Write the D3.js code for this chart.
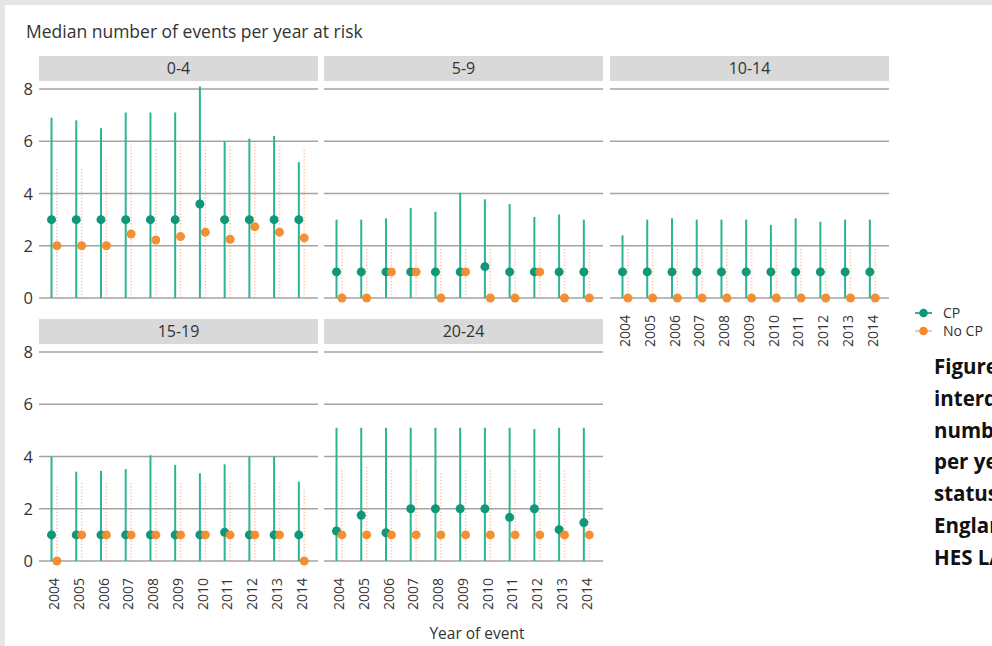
<!DOCTYPE html>
<html>
<head>
<meta charset="utf-8">
<script src="https://cdn.jsdelivr.net/npm/d3@7"></script>
<style>
  html, body { margin: 0; padding: 0; background: #fff; }
  svg { display: block; font-family: "Open Sans", "Noto Sans", sans-serif; }
</style>
</head>
<body>
<svg id="chart" width="992" height="646"></svg>
<script>
// Age groups (facets) and event years
const ageGroups = ["0-4", "5-9", "10-14", "15-19", "20-24"];
const years = ["2004", "2005", "2006", "2007", "2008", "2009", "2010", "2011", "2012", "2013", "2014"];
const yTicks = [0, 2, 4, 6, 8];

// CP: median and upper quartile per year, one row per age group
const cpMedian = [
  [3, 3, 3, 3, 3, 3, 3.6, 3, 3, 3, 3],
  [1, 1, 1, 1, 1, 1, 1.2, 1, 1, 1, 1],
  [1, 1, 1, 1, 1, 1, 1, 1, 1, 1, 1],
  [1, 1, 1, 1, 1, 1, 1, 1.1, 1, 1, 1],
  [1.15, 1.75, 1.08, 2, 2, 2, 2, 1.67, 2, 1.2, 1.47]
];
const cpUpper = [
  [6.9, 6.8, 6.5, 7.1, 7.1, 7.1, 8.1, 6.0, 6.1, 6.2, 5.2],
  [3.0, 3.0, 3.05, 3.45, 3.3, 4.03, 3.78, 3.6, 3.1, 3.2, 3.0],
  [2.4, 3.0, 3.05, 3.0, 3.0, 3.0, 2.8, 3.05, 2.92, 3.0, 3.0],
  [4.0, 3.42, 3.45, 3.52, 4.05, 3.68, 3.36, 3.7, 4.0, 4.0, 3.04],
  [5.1, 5.1, 5.1, 5.1, 5.1, 5.1, 5.1, 5.1, 5.05, 5.1, 5.1]
];

// No CP: median and upper quartile per year
const noCpMedian = [
  [2.0, 2.0, 2.0, 2.45, 2.22, 2.35, 2.52, 2.25, 2.73, 2.52, 2.3],
  [0, 0, 1, 1, 0, 1, 0, 0, 1, 0, 0],
  [0, 0, 0, 0, 0, 0, 0, 0, 0, 0, 0],
  [0, 1, 1, 1, 1, 1, 1, 1, 1, 1, 0],
  [1, 1, 1, 1, 1, 1, 1, 1, 1, 1, 1]
];
const noCpUpper = [
  [5.0, 5.0, 5.3, 5.9, 5.7, 5.9, 5.8, 5.8, 5.9, 5.8, 5.7],
  [2.0, 2.0, 2.0, 2.0, 2.0, 2.1, 2.0, 2.0, 2.0, 2.0, 2.0],
  [2.0, 2.0, 2.0, 2.0, 2.0, 2.0, 2.0, 2.0, 2.0, 2.0, 2.0],
  [2.85, 3.0, 3.0, 3.0, 3.0, 3.0, 3.0, 3.0, 3.0, 3.0, 2.8],
  [3.5, 3.6, 3.5, 3.5, 3.4, 3.5, 3.5, 3.5, 3.5, 3.5, 3.5]
];

const seriesNames = ["CP", "No CP"];
const captionLines = [
  "Figure 5: Median and",
  "interquartile range of",
  "number of events",
  "per year at risk by CP",
  "status and age group,",
  "England, 2004-2014,",
  "HES LA data"
];

// ---- styling / layout ----
const cpDot = "#10977a", cpLine = "#2bb593";
const noDot = "#f28a2b", noLine = "#f5a06a";
const textCol = "#333";
const gridCol = "#a3a3a3";

const svg = d3.select("#chart");

// page frame
svg.append("rect").attr("width", 992).attr("height", 646).attr("fill", "#e6e6e6");
svg.append("rect").attr("x", 5).attr("y", 5).attr("width", 987).attr("height", 641).attr("fill", "#fff");

svg.append("text")
  .attr("x", 26).attr("y", 38)
  .attr("font-size", 17.5).attr("fill", textCol)
  .text("Median number of events per year at risk");

const colX = [39, 324, 610];
const panelW = 279;
const rows = [
  { stripY: 56, y0: 298, y8: 89 },
  { stripY: 319, y0: 561, y8: 352 }
];
const stripH = 25;

ageGroups.forEach((grp, gi) => {
  const row = rows[gi < 3 ? 0 : 1];
  const x0 = colX[gi % 3];
  const g = svg.append("g");

  const x = d3.scaleBand().domain(years).range([x0 + 2.85, x0 + 274.9]).padding(0);
  const y = d3.scaleLinear().domain([0, 8]).range([row.y0, row.y8]);
  const dodge = 2.7;
  const cx = yr => x(yr) + x.bandwidth() / 2;

  // strip
  g.append("rect").attr("x", x0).attr("y", row.stripY).attr("width", panelW).attr("height", stripH)
    .attr("fill", "#d9d9d9");
  g.append("text").attr("x", x0 + panelW / 2).attr("y", row.stripY + stripH / 2 + 5.5)
    .attr("text-anchor", "middle").attr("font-size", 16).attr("fill", textCol).text(grp);

  // gridlines
  g.selectAll("line.grid").data(yTicks).join("line")
    .attr("x1", x0).attr("x2", x0 + panelW)
    .attr("y1", d => y(d)).attr("y2", d => y(d))
    .attr("stroke", gridCol).attr("stroke-width", 1.3);

  // y axis labels on first column
  if (gi % 3 === 0) {
    g.selectAll("text.yl").data(yTicks).join("text")
      .attr("x", 33).attr("y", d => y(d) + 6)
      .attr("text-anchor", "end").attr("font-size", 16.5).attr("fill", textCol)
      .text(d => d);
  }

  // x tick labels under panels that have nothing beneath them
  if (gi >= 2) {
    g.selectAll("text.xl").data(years).join("text")
      .attr("transform", d => `translate(${cx(d) + 5},${row.y0 + 17}) rotate(-90)`)
      .attr("text-anchor", "end").attr("font-size", 14).attr("fill", textCol)
      .text(d => d);
  }

  // No CP ranges (dotted)
  g.selectAll("line.nr").data(years).join("line")
    .attr("x1", d => cx(d) + dodge).attr("x2", d => cx(d) + dodge)
    .attr("y1", y(0)).attr("y2", (d, i) => y(noCpUpper[gi][i]))
    .attr("stroke", noLine).attr("stroke-width", 1.6).attr("stroke-dasharray", "1.2,2")
    .attr("opacity", 0.6);

  // CP ranges (solid)
  g.selectAll("line.cr").data(years).join("line")
    .attr("x1", d => cx(d) - dodge).attr("x2", d => cx(d) - dodge)
    .attr("y1", y(0)).attr("y2", (d, i) => y(cpUpper[gi][i]))
    .attr("stroke", cpLine).attr("stroke-width", 2);

  // medians
  g.selectAll("circle.cp").data(years).join("circle")
    .attr("cx", d => cx(d) - dodge).attr("cy", (d, i) => y(cpMedian[gi][i]))
    .attr("r", 4.5).attr("fill", cpDot);
  g.selectAll("circle.nc").data(years).join("circle")
    .attr("cx", d => cx(d) + dodge).attr("cy", (d, i) => y(noCpMedian[gi][i]))
    .attr("r", 4.5).attr("fill", noDot).attr("opacity", 0.95);
});

// x axis title
svg.append("text").attr("x", 477).attr("y", 639).attr("text-anchor", "middle")
  .attr("font-size", 15.5).attr("fill", textCol).text("Year of event");

// legend
const legend = svg.append("g");
seriesNames.forEach((name, i) => {
  const ly = 313 + i * 18;
  const col = i === 0 ? cpDot : noDot;
  const lc = i === 0 ? cpLine : noLine;
  legend.append("line").attr("x1", 915).attr("x2", 932).attr("y1", ly).attr("y2", ly)
    .attr("stroke", lc).attr("stroke-width", 2).attr("opacity", i === 0 ? 1 : 0.6);
  legend.append("circle").attr("cx", 923.5).attr("cy", ly).attr("r", 4.3).attr("fill", col);
  legend.append("text").attr("x", 943).attr("y", ly + 5).attr("font-size", 14).attr("fill", textCol).text(name);
});

// caption (runs off the right edge of the page)
svg.append("g").selectAll("text").data(captionLines).join("text")
  .attr("x", 934).attr("y", (d, i) => 374 + i * 31.8)
  .attr("font-size", 20.5).attr("font-weight", "bold").attr("fill", "#111")
  .text(d => d);
</script>
</body>
</html>
